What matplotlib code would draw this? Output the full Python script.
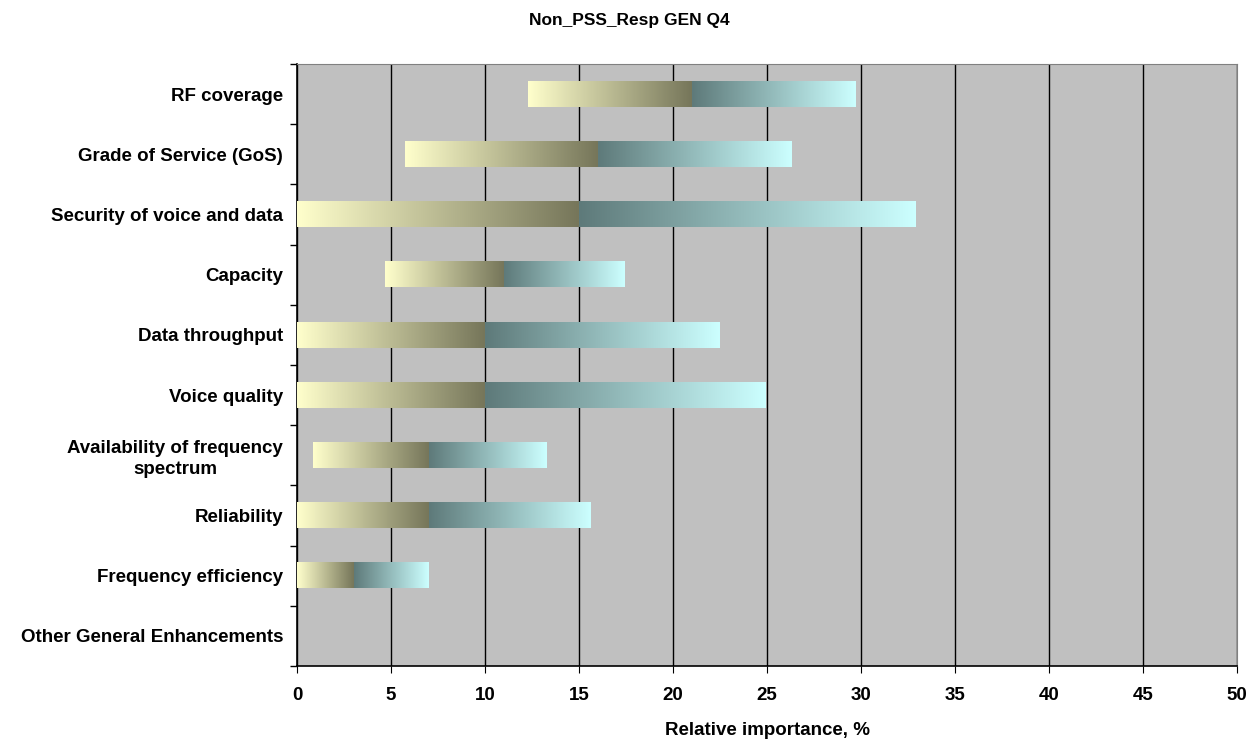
import numpy as np
import matplotlib
matplotlib.use("Agg")
import matplotlib.pyplot as plt
from matplotlib.colors import to_rgb

plt.rcParams["font.family"] = ["Liberation Sans", "DejaVu Sans"]
plt.rcParams["font.weight"] = "bold"

# Data (top to bottom)
categories = [
    "RF coverage",
    "Grade of Service (GoS)",
    "Security of voice and data",
    "Capacity",
    "Data throughput",
    "Voice quality",
    "Availability of frequency\nspectrum",
    "Reliability",
    "Frequency efficiency",
    "Other General Enhancements",
]
low = [12.3, 5.75, 0.0, 4.7, 0.0, 0.0, 0.85, 0.0, 0.0, np.nan]
mid = [21.0, 16.0, 15.0, 11.0, 10.0, 10.0, 7.0, 7.0, 3.0, np.nan]
high = [29.7, 26.3, 32.9, 17.4, 22.45, 24.9, 13.25, 15.6, 6.97, np.nan]

left_colors = ("#FFFFCC", "#76765A")
right_colors = ("#5E7A7A", "#CCFFFF")


def gradient(c1, c2, n=256):
    a = np.array(to_rgb(c1))
    b = np.array(to_rgb(c2))
    t = np.linspace(0, 1, n)[:, None]
    return (a + (b - a) * t)[None, :, :]


fig = plt.figure(figsize=(12.59, 7.42), dpi=100)
ax = fig.add_axes([0.236, 0.1024, 0.7465, 0.8113])
ax.set_facecolor("#C0C0C0")

n = len(categories)
ypos = np.arange(n)
h = 0.42
grad_l = gradient(*left_colors)
grad_r = gradient(*right_colors)
for y, lo, md, hi in zip(ypos, low, mid, high):
    if np.isnan(lo):
        continue
    ax.imshow(grad_l, extent=(lo, md, y + h / 2, y - h / 2), aspect="auto",
              interpolation="bilinear", zorder=3)
    ax.imshow(grad_r, extent=(md, hi, y + h / 2, y - h / 2), aspect="auto",
              interpolation="bilinear", zorder=3)

ax.set_xlim(0, 50)
ax.set_ylim(n - 0.5, -0.5)
ax.set_xticks(np.arange(0, 51, 5))
ax.set_yticks(ypos)
ax.set_yticklabels(categories, fontsize=13.5, fontweight="bold",
                   multialignment="center", linespacing=1.3)
ax.set_yticks(np.arange(-0.5, n, 1), minor=True)
ax.tick_params(axis="y", which="major", length=0, pad=10)
ax.tick_params(axis="y", which="minor", length=5, direction="out", width=1)
ax.tick_params(axis="x", length=5, direction="out", labelsize=13.5, pad=10)
for lbl in ax.get_xticklabels():
    lbl.set_fontweight("bold")

ax.grid(axis="x", color="black", linewidth=1, zorder=1)
ax.set_axisbelow(True)
for s in ("top", "right"):
    ax.spines[s].set_color("#808080")
ax.spines["left"].set_linewidth(1.2)
ax.spines["bottom"].set_linewidth(1.2)

ax.set_xlabel("Relative importance, %", fontsize=13.5, fontweight="bold", labelpad=13)
fig.suptitle("Non_PSS_Resp GEN Q4", x=0.5, y=0.983, fontsize=12.5, fontweight="bold")

fig.savefig("out.png", dpi=100)
